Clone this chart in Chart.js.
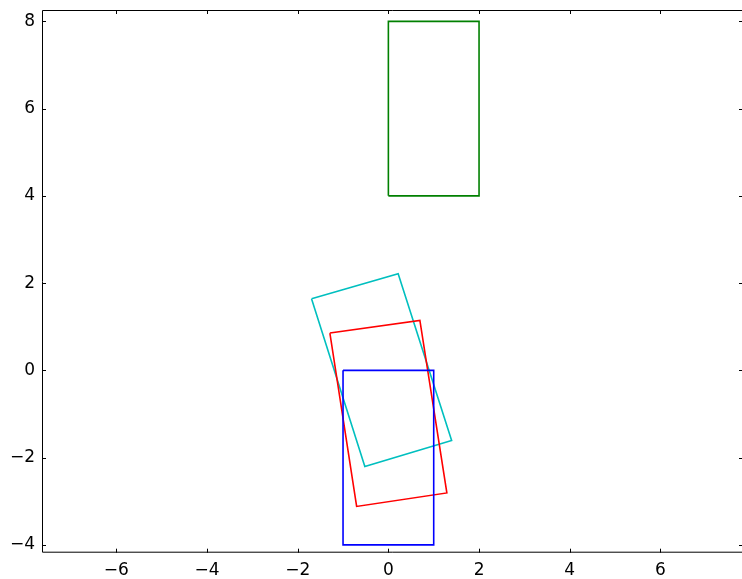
<!DOCTYPE html>
<html>
<head>
<meta charset="utf-8">
<script src="https://cdn.jsdelivr.net/npm/chart.js@4/dist/chart.umd.min.js"></script>
<style>
  html, body { margin: 0; padding: 0; background: #fff; overflow: hidden; }
  canvas { display: block; }
</style>
</head>
<body>
<canvas id="myChart" width="742" height="579"></canvas>
<script>
// rectangle outlines, corners (closed: first point repeated)
const blueX  = [-1, 1, 1, -1, -1];
const blueY  = [0, 0, -4, -4, 0];
const greenX = [0, 2, 2, 0, 0];
const greenY = [4, 4, 8, 8, 4];
const redX   = [-1.29, 0.695, 1.29, -0.70, -1.29];
const redY   = [0.855, 1.144, -2.81, -3.12, 0.855];
const cyanX  = [-1.695, 0.216, 1.395, -0.519, -1.695];
const cyanY  = [1.64, 2.215, -1.607, -2.204, 1.64];

const xTicks = [-6, -4, -2, 0, 2, 4, 6];
const yTicks = [-4, -2, 0, 2, 4, 6, 8];

function pts(xs, ys) {
  let out = [];
  for (let i = 0; i < xs.length; i++) {
    out.push({x: xs[i], y: ys[i]});
  }
  return out;
}

function fmt(v) {
  return v < 0 ? '\u2212' + Math.abs(v) : '' + v;
}

// matplotlib classic look: spines + inward ticks on all sides
// (the right spine sits just outside the picture, only its ticks show)
const frame = {
  id: 'frame',
  afterDraw(chart) {
    const c = chart.ctx;
    const a = chart.chartArea;
    const sx = chart.scales.x, sy = chart.scales.y;
    const R = a.right + 1;
    c.save();
    c.strokeStyle = '#000';
    c.lineWidth = 1;
    c.beginPath();
    c.moveTo(R, a.top + 0.5); c.lineTo(a.left + 0.5, a.top + 0.5);
    c.lineTo(a.left + 0.5, a.bottom - 0.5); c.lineTo(R, a.bottom - 0.5);
    xTicks.forEach(v => {
      const p = Math.round(sx.getPixelForValue(v)) + 0.5;
      c.moveTo(p, a.bottom); c.lineTo(p, a.bottom - 4);
      c.moveTo(p, a.top); c.lineTo(p, a.top + 4);
    });
    yTicks.forEach(v => {
      const p = Math.round(sy.getPixelForValue(v)) + 0.5;
      c.moveTo(a.left, p); c.lineTo(a.left + 4, p);
      c.moveTo(R, p); c.lineTo(R - 4, p);
    });
    c.stroke();
    c.restore();
  }
};

Chart.defaults.font.family = '"DejaVu Sans", sans-serif';
Chart.defaults.font.size = 17;
Chart.defaults.color = '#000';

const ctx = document.getElementById('myChart').getContext('2d');
const myChart = new Chart(ctx, {
  type: 'scatter',
  data: {
    datasets: [
      { data: pts(blueX, blueY),   borderColor: '#0000ff' },
      { data: pts(greenX, greenY), borderColor: '#008000' },
      { data: pts(redX, redY),     borderColor: '#ff0000' },
      { data: pts(cyanX, cyanY),   borderColor: '#00bfbf' }
    ]
  },
  options: {
    responsive: false,
    animation: false,
    datasets: {
      scatter: { showLine: true, pointRadius: 0, borderWidth: 1.6, fill: false, tension: 0 }
    },
    layout: { padding: { top: 10, right: 0, left: 0, bottom: 0 } },
    plugins: { legend: { display: false }, tooltip: { enabled: false } },
    scales: {
      x: {
        type: 'linear',
        min: -7.64,
        max: 7.80,
        grid: { display: false, drawTicks: false },
        border: { display: false },
        afterBuildTicks: s => { s.ticks = xTicks.map(v => ({value: v})); },
        afterFit: s => { s.height = 26.3; s.paddingLeft = 0; s.paddingRight = 0; },
        ticks: { padding: 8, maxRotation: 0, callback: v => fmt(v) }
      },
      y: {
        type: 'linear',
        min: -4.18,
        max: 8.26,
        grid: { display: false, drawTicks: false },
        border: { display: false },
        afterBuildTicks: s => { s.ticks = yTicks.map(v => ({value: v})); },
        afterFit: s => { s.width = 42; s.paddingTop = 0; s.paddingBottom = 0; },
        ticks: { padding: 7, callback: v => fmt(v) }
      }
    }
  },
  plugins: [frame]
});
</script>
</body>
</html>
